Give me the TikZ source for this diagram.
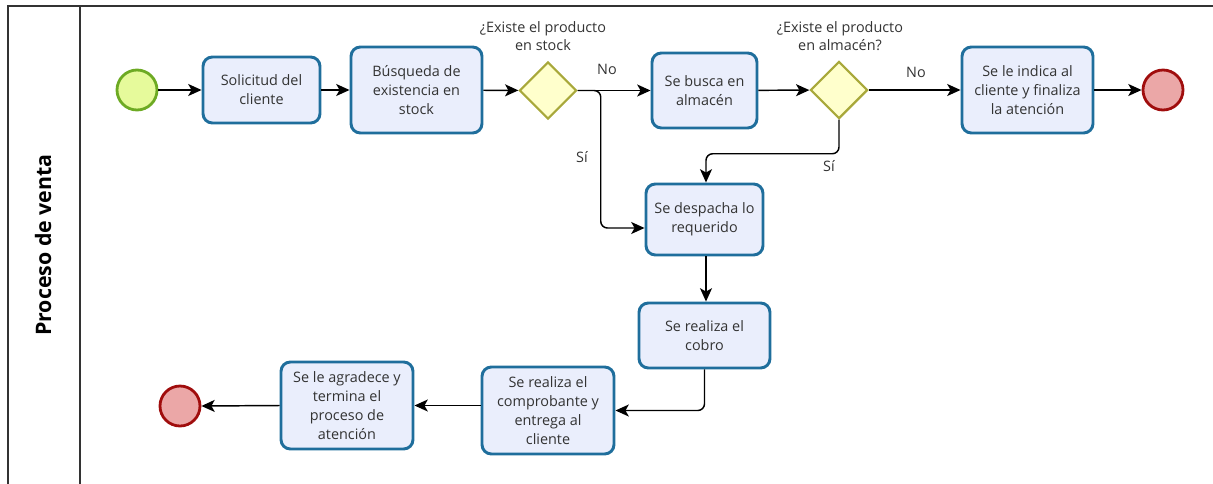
\documentclass[tikz,border=0pt]{standalone}
\usepackage{fontspec}
\setmainfont{Open Sans}
\usetikzlibrary{arrows.meta,shapes.geometric,calc}
\definecolor{taskfill}{HTML}{EAEEFC}
\definecolor{taskline}{HTML}{1F6E9C}
\definecolor{startfill}{HTML}{E6FA9B}
\definecolor{startline}{HTML}{6DAA23}
\definecolor{endfill}{HTML}{EBA7A7}
\definecolor{endline}{HTML}{A00D0D}
\definecolor{gwfill}{HTML}{FFFFCC}
\definecolor{gwline}{HTML}{A8A83A}
\definecolor{txt}{HTML}{333333}
\tikzset{
  task/.style={draw=taskline, fill=taskfill, line width=2.2pt, rounded corners=7pt,
    align=center, inner sep=0pt, text=txt, font=\fontsize{10.8}{14.2}\selectfont},
  startev/.style={circle, draw=startline, fill=startfill, line width=2.1pt, minimum size=30pt, inner sep=0pt},
  endev/.style={circle, draw=endline, fill=endfill, line width=2.1pt, minimum size=30pt, inner sep=0pt},
  gw/.style={diamond, draw=gwline, fill=gwfill, line width=1.6pt, minimum width=43pt, minimum height=43pt, inner sep=0pt, aspect=1},
  conn/.style={draw=black, line width=1.1pt, rounded corners=5pt, -{Stealth[length=10pt,width=9pt,inset=2.5pt]}},
  lbl/.style={text=txt, font=\fontsize{10.8}{14}\selectfont, align=center, inner sep=0pt},
}
\begin{document}
\begin{tikzpicture}[x=0.75pt,y=-0.75pt]
\useasboundingbox (0,0) rectangle (1213,483);
\draw[line width=1.1pt, draw=txt] (8,6) rectangle (1240,510);
\draw[line width=1.1pt, draw=txt] (80,6) -- (80,510);
\node[rotate=90, font=\fontsize{16}{18}\selectfont\bfseries, text=black] (lane) at (43,245) {Proceso de venta};

\node[startev] (s) at (137,90) {};
\node[task, minimum width=87.75pt, minimum height=49.5pt] (t1) at (261.5,90) {Solicitud del\\cliente};
\node[task, minimum width=98.25pt, minimum height=64.5pt] (t2) at (416.5,90) {Búsqueda de\\existencia en\\stock};
\node[gw] (d1) at (548,90.5) {};
\node[lbl] (l1) at (543,36) {¿Existe el producto\\en stock};
\node[task, minimum width=78.75pt, minimum height=56.25pt] (t3) at (704.5,90.5) {Se busca en\\almacén};
\node[gw] (d2) at (839,90) {};
\node[lbl] (l2) at (840,36) {¿Existe el producto\\en almacén?};
\node[task, minimum width=98.25pt, minimum height=64.5pt] (t4) at (1027.5,90) {Se le indica al\\cliente y finaliza\\la atención};
\node[endev] (e1) at (1163,90) {};
\node[task, minimum width=87.75pt, minimum height=53.25pt] (t5) at (704.5,219.5) {Se despacha lo\\requerido};
\node[task, minimum width=98.25pt, minimum height=48.75pt] (t6) at (704.5,335.5) {Se realiza el\\cobro};
\node[task, minimum width=99pt, minimum height=65.25pt] (t7) at (548,410.5) {Se realiza el\\comprobante y\\entrega al\\cliente};
\node[task, minimum width=99pt, minimum height=65.25pt] (t8) at (347,405.5) {Se le agradece y\\termina el\\proceso de\\atención};
\node[endev] (e2) at (180,406) {};

\node[lbl] (no1) at (607,69) {No};
\node[lbl] (no2) at (916,72) {No};
\node[lbl] (si1) at (582,157) {Sí};
\node[lbl] (si2) at (829,166) {Sí};

\draw[conn] (s) -- (t1);
\draw[conn] (t1) -- (t2);
\draw[conn] (t2) -- (d1);
\draw[conn] (d1.east) -- (t3.west);
\draw[conn] (d1.east) -- ++(23,0) |- ($(t5.west)+(0,8.5)$);
\draw[conn] (t3) -- (d2);
\draw[conn] (d2.east) -- (t4.west);
\draw[conn] (t4) -- (e1);
\draw[conn] (d2.south) -- ++(0,34) -| ($(t5.north)+(1.5,0)$);
\draw[conn] ($(t5.south)+(1.5,0)$) -- ($(t6.north)+(1.5,0)$);
\draw[conn] (t6.south) |- (t7.east);
\draw[conn] (t7.west |- t8.east) -- (t8.east);
\draw[conn] (t8.west) -- (e2.east);
\end{tikzpicture}
\end{document}
